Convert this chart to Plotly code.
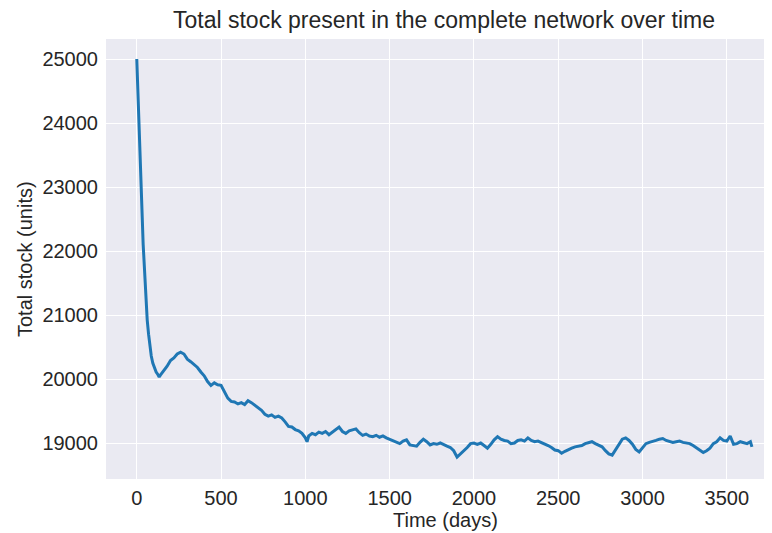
import plotly.graph_objects as go

days = [0, 4, 8, 12, 17, 21, 25, 29, 33, 38, 44, 50, 56, 62, 70, 78, 86, 95, 105, 115, 125, 133, 140,
        160, 180, 200, 220, 240, 260, 280, 300, 320, 340, 360, 380, 400, 420, 440, 460, 480, 500,
        520, 540, 560, 580, 600, 620, 640, 660, 680, 700, 720, 740, 760, 780, 800, 820, 840, 860,
        880, 900, 920, 940, 960, 980, 1000, 1010, 1020, 1040, 1060, 1080, 1100, 1120, 1140, 1160,
        1180, 1200, 1220, 1240, 1260, 1280, 1300, 1320, 1340, 1360, 1380, 1400, 1420, 1440, 1460,
        1480, 1500, 1520, 1540, 1560, 1580, 1600, 1620, 1640, 1660, 1680, 1700, 1720, 1740, 1760,
        1780, 1800, 1820, 1840, 1860, 1880, 1900, 1920, 1940, 1960, 1980, 2000, 2020, 2040, 2060,
        2080, 2100, 2120, 2140, 2160, 2180, 2200, 2220, 2240, 2260, 2280, 2300, 2320, 2340, 2360,
        2380, 2400, 2420, 2440, 2460, 2480, 2500, 2520, 2540, 2560, 2580, 2600, 2620, 2640, 2660,
        2680, 2700, 2720, 2740, 2760, 2780, 2800, 2820, 2840, 2860, 2880, 2900, 2920, 2940, 2960,
        2980, 3000, 3020, 3040, 3060, 3080, 3100, 3120, 3140, 3160, 3180, 3200, 3220, 3240, 3260,
        3280, 3300, 3320, 3340, 3360, 3380, 3400, 3420, 3440, 3460, 3480, 3500, 3520, 3540, 3560,
        3580, 3600, 3620, 3640, 3649]

total_stock = [25000, 24650, 24350, 24050, 23730, 23400, 23100, 22780, 22480, 22100, 21750, 21440,
               21150, 20920, 20700, 20500, 20360, 20250, 20170, 20110, 20070, 20030, 20060,
               20130, 20200, 20290, 20330, 20390, 20420, 20390, 20310, 20270, 20230, 20180, 20110,
               20050, 19960, 19900, 19940, 19910, 19900, 19790, 19700, 19650, 19640, 19610, 19630,
               19600, 19660, 19630, 19590, 19560, 19510, 19450, 19420, 19440, 19400, 19420, 19390,
               19330, 19260, 19250, 19210, 19190, 19150, 19080, 19020, 19110, 19150, 19130, 19170,
               19150, 19180, 19130, 19170, 19200, 19250, 19180, 19150, 19190, 19210, 19220, 19160,
               19120, 19140, 19110, 19100, 19120, 19090, 19110, 19080, 19060, 19040, 19010, 18990,
               19030, 19050, 18970, 18960, 18950, 19010, 19060, 19020, 18970, 18990, 18980, 19000,
               18970, 18950, 18930, 18880, 18780, 18830, 18870, 18930, 18990, 19000, 18980, 19000,
               18960, 18920, 18980, 19050, 19100, 19060, 19040, 19030, 18990, 19000, 19040, 19050,
               19030, 19080, 19040, 19020, 19030, 19010, 18990, 18960, 18930, 18890, 18880, 18840,
               18870, 18900, 18920, 18940, 18950, 18960, 18990, 19010, 19020, 18990, 18960, 18940,
               18880, 18830, 18810, 18900, 18980, 19060, 19080, 19040, 18980, 18900, 18860, 18920,
               18990, 19010, 19020, 19040, 19060, 19070, 19040, 19030, 19010, 19020, 19030, 19010,
               19000, 18990, 18960, 18920, 18880, 18850, 18880, 18920, 18990, 19020, 19080, 19040,
               19030, 19110, 18980, 18990, 19020, 19000, 18990, 19020, 18940]

x_ticks = [0, 500, 1000, 1500, 2000, 2500, 3000, 3500]
y_ticks = [19000, 20000, 21000, 22000, 23000, 24000, 25000]

FONT = "Liberation Sans, Arial, sans-serif"
TXT = "#262626"
# the page places the figure 8px in from the window's top-left corner
OFF = 8
W, H = 772 - OFF, 533 - OFF
L, R, T, B = 106 - OFF, 0, 39 - OFF, 533 - 479
PW, PH = W - L - R, H - T - B

fig = go.Figure()
fig.add_trace(go.Scatter(x=days, y=total_stock, mode="lines",
                         line=dict(color="#1f77b4", width=3), showlegend=False))

fig.update_layout(
    width=W, height=H,
    margin=dict(l=L, r=R, t=T, b=B),
    paper_bgcolor="white",
    plot_bgcolor="#EAEAF2",
    font=dict(family=FONT, size=20, color=TXT),
    annotations=[
        dict(text="Total stock present in the complete network over time",
             xref="paper", yref="paper", x=(444 - OFF - L) / PW, y=1 + (T - (20 - OFF)) / PH,
             xanchor="center", yanchor="middle", showarrow=False,
             font=dict(family=FONT, size=23, color=TXT)),
        dict(text="Time (days)",
             xref="paper", yref="paper", x=(445 - OFF - L) / PW, y=-((520 - OFF) - (H - B)) / PH,
             xanchor="center", yanchor="middle", showarrow=False,
             font=dict(family=FONT, size=20, color=TXT)),
        dict(text="Total stock (units)", textangle=-90,
             xref="paper", yref="paper", x=-(L - (25 - OFF)) / PW, y=0.5,
             xanchor="center", yanchor="middle", showarrow=False,
             font=dict(family=FONT, size=20, color=TXT)),
    ],
)
fig.update_xaxes(range=[-182.5, 3768], tickvals=x_ticks, ticktext=[str(v) for v in x_ticks],
                 showgrid=True, gridcolor="white", gridwidth=1.3, zeroline=False,
                 showline=False, ticks="", ticklabelstandoff=5, automargin=False,
                 tickfont=dict(size=20, color=TXT))
fig.update_yaxes(range=[18437.5, 25312.5], tickvals=y_ticks, ticktext=[str(v) for v in y_ticks],
                 showgrid=True, gridcolor="white", gridwidth=1.3, zeroline=False,
                 showline=False, ticks="", ticklabelstandoff=7, automargin=False,
                 tickfont=dict(size=20, color=TXT))

fig.write_html("out.html")
